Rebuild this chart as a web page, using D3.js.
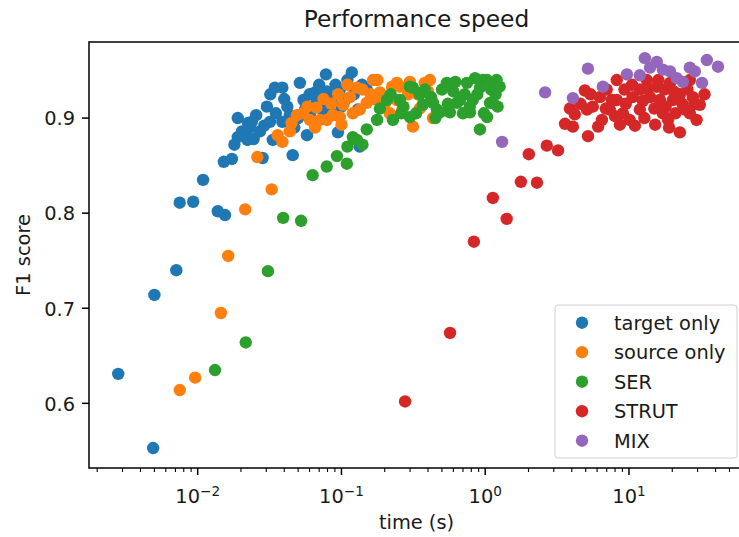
<!DOCTYPE html>
<html>
<head>
<meta charset="utf-8">
<script src="https://cdn.jsdelivr.net/npm/d3@7"></script>
<style>
  body { margin: 0; background: #fff; }
  text { font-family: "DejaVu Sans", sans-serif; fill: #1a1a1a; }
</style>
</head>
<body>
<script>
// series names, colours of matplotlib tab10
var seriesNames = ['target only', 'source only', 'SER', 'STRUT', 'MIX'];
var seriesColors = ['#1f77b4', '#ff7f0e', '#2ca02c', '#d62728', '#9467bd'];

// [time (s), F1 score]
var targetOnly = [
  [0.0028, 0.631], [0.0049, 0.553], [0.0050, 0.714], [0.0071, 0.740], [0.0075, 0.811],
  [0.0093, 0.812], [0.0109, 0.835], [0.0138, 0.802], [0.0155, 0.798], [0.0152, 0.854],
  [0.0173, 0.857], [0.0190, 0.880], [0.0224, 0.895], [0.0214, 0.882], [0.0231, 0.890],
  [0.0238, 0.896], [0.0203, 0.886], [0.0222, 0.877], [0.0271, 0.886], [0.0303, 0.912],
  [0.0318, 0.896], [0.0344, 0.932], [0.0388, 0.932], [0.0514, 0.937], [0.0420, 0.912],
  [0.0388, 0.896], [0.0333, 0.877], [0.0283, 0.858], [0.0458, 0.861], [0.0576, 0.882],
  [0.0780, 0.946], [0.1180, 0.948], [0.0945, 0.885], [0.134, 0.870], [0.0655, 0.927],
  [0.0790, 0.928], [0.0975, 0.930], [0.0670, 0.916], [0.0855, 0.919], [0.0740, 0.909],
  [0.106, 0.919], [0.0603, 0.903], [0.0500, 0.900], [0.091, 0.935], [0.122, 0.925],
  [0.139, 0.935], [0.130, 0.909], [0.0437, 0.903], [0.0545, 0.919], [0.0190, 0.900],
  [0.110, 0.940], [0.150, 0.930], [0.0600, 0.925], [0.0850, 0.905], [0.0470, 0.890],
  [0.0180, 0.872], [0.0245, 0.878], [0.0255, 0.903], [0.0290, 0.892], [0.0350, 0.905],
  [0.0400, 0.920], [0.0560, 0.910], [0.0700, 0.935], [0.100, 0.912], [0.0320, 0.925]
];
var sourceOnly = [
  [0.0075, 0.614], [0.0096, 0.627], [0.0145, 0.695], [0.0163, 0.755], [0.0214, 0.804],
  [0.0327, 0.825], [0.0260, 0.859], [0.0388, 0.875], [0.0360, 0.882], [0.0437, 0.886],
  [0.0540, 0.905], [0.0670, 0.911], [0.0790, 0.898], [0.0655, 0.890], [0.103, 0.914],
  [0.128, 0.932], [0.166, 0.940], [0.1145, 0.922], [0.0975, 0.901], [0.150, 0.916],
  [0.185, 0.927], [0.225, 0.933], [0.243, 0.919], [0.178, 0.940], [0.243, 0.937],
  [0.299, 0.938], [0.412, 0.940], [0.314, 0.891], [0.433, 0.900], [0.265, 0.909],
  [0.217, 0.905], [0.380, 0.937], [0.255, 0.933], [0.049, 0.903], [0.0708, 0.898],
  [0.087, 0.903], [0.100, 0.893], [0.134, 0.909], [0.0603, 0.898], [0.160, 0.925],
  [0.200, 0.915], [0.340, 0.925], [0.120, 0.905], [0.0850, 0.915], [0.350, 0.910],
  [0.045, 0.895], [0.058, 0.912], [0.075, 0.920], [0.095, 0.925], [0.140, 0.930],
  [0.170, 0.920], [0.290, 0.925], [0.400, 0.928], [0.110, 0.935]
];
var ser = [
  [0.0132, 0.635], [0.0216, 0.664], [0.0308, 0.739], [0.0393, 0.795], [0.0524, 0.792],
  [0.0630, 0.840], [0.0790, 0.849], [0.0930, 0.860], [0.1090, 0.852], [0.128, 0.877],
  [0.150, 0.888], [0.177, 0.898], [0.228, 0.898], [0.207, 0.919], [0.255, 0.919],
  [0.314, 0.932], [0.299, 0.901], [0.368, 0.914], [0.541, 0.937], [0.461, 0.909],
  [0.568, 0.906], [0.667, 0.919], [0.746, 0.937], [0.964, 0.940], [0.919, 0.888],
  [1.08, 0.916], [0.783, 0.906], [0.299, 0.933], [0.433, 0.916], [0.635, 0.916],
  [1.03, 0.940], [1.26, 0.933], [1.03, 0.901], [1.13, 0.916], [0.820, 0.919],
  [0.484, 0.906], [0.120, 0.880], [0.140, 0.872], [0.185, 0.910], [0.110, 0.870],
  [0.350, 0.925], [0.600, 0.928], [0.880, 0.925], [1.18, 0.925], [0.700, 0.905],
  [0.220, 0.925], [0.270, 0.912], [0.330, 0.905], [0.380, 0.930], [0.420, 0.922],
  [0.500, 0.930], [0.550, 0.915], [0.620, 0.938], [0.720, 0.925], [0.780, 0.912],
  [0.920, 0.932], [0.980, 0.905], [1.10, 0.930], [1.22, 0.912], [0.450, 0.900],
  [0.850, 0.942], [0.260, 0.905], [1.20, 0.940]
];
var strut = [
  [0.277, 0.602], [0.569, 0.674], [0.834, 0.770], [1.41, 0.794], [1.13, 0.816],
  [1.77, 0.833], [2.29, 0.832], [2.01, 0.862], [2.68, 0.871], [3.21, 0.866],
  [3.59, 0.894], [4.07, 0.891], [5.19, 0.881], [3.88, 0.910], [4.93, 0.929],
  [5.10, 0.909], [6.48, 0.898], [6.28, 0.922], [8.22, 0.940], [8.22, 0.919],
  [9.07, 0.905], [10.1, 0.898], [10.6, 0.922], [13.3, 0.940], [14.0, 0.922],
  [15.6, 0.933], [17.2, 0.905], [20.2, 0.919], [22.6, 0.885], [26.5, 0.905],
  [27.8, 0.922], [26.5, 0.940], [19.3, 0.937], [11.9, 0.909], [7.36, 0.909],
  [5.60, 0.912], [8.64, 0.893], [15.2, 0.893], [11.9, 0.930], [16.4, 0.919],
  [22.6, 0.925], [31.1, 0.914], [33.5, 0.925], [9.30, 0.930], [4.20, 0.904],
  [6.10, 0.891], [7.60, 0.919], [17.6, 0.930], [24.5, 0.909], [18.7, 0.898],
  [4.60, 0.915], [5.40, 0.925], [6.90, 0.910], [7.00, 0.930], [8.00, 0.902],
  [9.50, 0.915], [10.5, 0.935], [12.5, 0.918], [12.8, 0.900], [13.5, 0.930],
  [15.0, 0.910], [16.0, 0.940], [18.0, 0.912], [20.5, 0.928], [21.0, 0.905],
  [23.5, 0.915], [25.5, 0.930], [28.5, 0.915], [29.5, 0.898], [11.0, 0.892],
  [19.0, 0.890]
];
var mix = [
  [1.31, 0.875], [2.61, 0.927], [5.18, 0.952], [4.07, 0.921], [6.58, 0.933],
  [9.67, 0.946], [11.9, 0.945], [12.9, 0.963], [15.6, 0.959], [19.3, 0.949],
  [23.7, 0.938], [26.5, 0.953], [32.2, 0.937], [34.8, 0.961], [41.6, 0.954],
  [21.5, 0.942], [17.2, 0.951], [14.0, 0.953], [28.7, 0.949]
];
var seriesData = [targetOnly, sourceOnly, ser, strut, mix];

var xMajorTicks = [0.01, 0.1, 1, 10];
var xTickExps = ['\u22122', '\u22121', '0', '1'];
var yTicks = [0.6, 0.7, 0.8, 0.9];

/**************************************/

var width = 739,
    height = 537;

var margin = {top: 42, right: -5, bottom: 69, left: 89};

var svg = d3.select('body').append('svg')
    .attr('width', width)
    .attr('height', height);

var x = d3.scaleLog()
    .domain([Math.pow(10, -2.756), Math.pow(10, 1.80)])
    .range([margin.left, width - margin.right]);

var y = d3.scaleLinear()
    .domain([0.532, 0.980])
    .range([height - margin.bottom, margin.top]);

var plotBottom = height - margin.bottom;

// points
seriesData.forEach(function(data, i) {
    svg.append('g')
        .selectAll('circle')
        .data(data)
        .enter().append('circle')
        .attr('cx', function(d) { return x(d[0]); })
        .attr('cy', function(d) { return y(d[1]); })
        .attr('r', 6.2)
        .attr('fill', seriesColors[i]);
});

// spines
svg.append('rect')
    .attr('x', margin.left)
    .attr('y', margin.top)
    .attr('width', width - margin.right - margin.left)
    .attr('height', plotBottom - margin.top)
    .attr('fill', 'none')
    .attr('stroke', '#000')
    .attr('stroke-width', 1.5);

// x axis: minor + major ticks, 10^k labels
var xAxis = svg.append('g');
var xMinor = [];
for (var e = -3; e <= 1; e++) {
    for (var m = 2; m <= 9; m++) {
        var v = m * Math.pow(10, e);
        if (v >= x.domain()[0] && v <= x.domain()[1]) xMinor.push(v);
    }
}
xAxis.selectAll('line.minor')
    .data(xMinor)
    .enter().append('line')
    .attr('class', 'minor')
    .attr('x1', function(d) { return x(d); })
    .attr('x2', function(d) { return x(d); })
    .attr('y1', plotBottom)
    .attr('y2', plotBottom + 4)
    .attr('stroke', '#000')
    .attr('stroke-width', 1.1);

xAxis.selectAll('line.major')
    .data(xMajorTicks)
    .enter().append('line')
    .attr('class', 'major')
    .attr('x1', function(d) { return x(d); })
    .attr('x2', function(d) { return x(d); })
    .attr('y1', plotBottom)
    .attr('y2', plotBottom + 7)
    .attr('stroke', '#000')
    .attr('stroke-width', 1.5);

var xl = xAxis.selectAll('text')
    .data(xMajorTicks)
    .enter().append('text')
    .attr('x', function(d) { return x(d); })
    .attr('y', 503)
    .attr('text-anchor', 'middle')
    .style('font-size', '19.4px');
xl.append('tspan').text('10');
xl.append('tspan')
    .attr('dy', -7)
    .style('font-size', '13.6px')
    .text(function(d, i) { return xTickExps[i]; });

// y axis
var yAxis = svg.append('g');
yAxis.selectAll('line')
    .data(yTicks)
    .enter().append('line')
    .attr('x1', margin.left - 7)
    .attr('x2', margin.left)
    .attr('y1', function(d) { return y(d); })
    .attr('y2', function(d) { return y(d); })
    .attr('stroke', '#000')
    .attr('stroke-width', 1.5);
yAxis.selectAll('text')
    .data(yTicks)
    .enter().append('text')
    .attr('x', 75)
    .attr('y', function(d) { return y(d) + 7.3; })
    .attr('text-anchor', 'end')
    .style('font-size', '19.4px')
    .text(function(d) { return d3.format('.1f')(d); });

// labels
var cx = (margin.left + width - margin.right) / 2;
svg.append('text')
    .attr('x', cx)
    .attr('y', 27)
    .attr('text-anchor', 'middle')
    .style('font-size', '23.3px')
    .text('Performance speed');

svg.append('text')
    .attr('x', cx)
    .attr('y', 529)
    .attr('text-anchor', 'middle')
    .style('font-size', '19.4px')
    .text('time (s)');

svg.append('text')
    .attr('transform', 'translate(30,' + ((margin.top + plotBottom) / 2) + ') rotate(-90)')
    .attr('text-anchor', 'middle')
    .style('font-size', '19.4px')
    .text('F1 score');

// legend
var legend = svg.append('g').attr('transform', 'translate(555,305)');
legend.append('rect')
    .attr('width', 182)
    .attr('height', 153)
    .attr('rx', 3)
    .attr('fill', '#fff')
    .attr('fill-opacity', 0.8)
    .attr('stroke', '#d0d0d0')
    .attr('stroke-width', 1);

var item = legend.selectAll('g.item')
    .data(seriesNames)
    .enter().append('g')
    .attr('class', 'item')
    .attr('transform', function(d, i) { return 'translate(0,' + (17.7 + i * 29.5) + ')'; });
item.append('circle')
    .attr('cx', 27)
    .attr('cy', 0)
    .attr('r', 6.2)
    .attr('fill', function(d, i) { return seriesColors[i]; });
item.append('text')
    .attr('x', 59)
    .attr('y', 7)
    .style('font-size', '19.4px')
    .text(function(d) { return d; });
</script>
</body>
</html>
